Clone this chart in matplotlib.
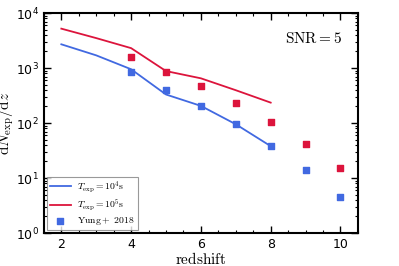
import matplotlib
matplotlib.use("Agg")
import matplotlib.pyplot as plt
from matplotlib.ticker import MultipleLocator, LogLocator, NullFormatter

plt.rcParams['mathtext.fontset'] = 'cm'

# line models
z_line = [2, 3, 4, 5, 6, 7, 8]
n_t4 = [2700, 1700, 950, 330, 205, 95, 38]
n_t5 = [5200, 3500, 2300, 880, 650, 395, 235]

# Yung+2018 points
z_pts = [4, 5, 6, 7, 8, 9, 10]
yung_blue = [850, 400, 205, 95, 38, 14, 4.6]
yung_red = [1600, 830, 465, 235, 103, 42, 15]

blue = '#4169E1'
red = '#DC143C'

fig = plt.figure(figsize=(3.99, 2.66), dpi=100)
ax = fig.add_axes([0.110, 0.124, 0.787, 0.827])

ax.plot(z_line, n_t4, color=blue, lw=1.3, label=r'$T_{\rm exp}=10^4{\rm s}$')
ax.plot(z_line, n_t5, color=red, lw=1.3, label=r'$T_{\rm exp}=10^5{\rm s}$')
ax.scatter(z_pts, yung_blue, marker='s', s=13, color=blue, label=r'${\rm Yung+\ 2018}$', zorder=3)
ax.scatter(z_pts, yung_red, marker='s', s=13, color=red, zorder=3)

ax.set_yscale('log')
ax.set_xlim(1.5, 10.5)
ax.set_ylim(1, 1e4)
ax.set_xticks([2, 4, 6, 8, 10])
ax.xaxis.set_minor_locator(MultipleLocator(0.5))
ax.yaxis.set_minor_locator(LogLocator(base=10, subs=range(2, 10), numticks=20))
ax.yaxis.set_minor_formatter(NullFormatter())
ax.tick_params(which='both', direction='in', top=True, right=True, labelsize=9)
ax.tick_params(which='major', length=5, width=1)
ax.tick_params(which='minor', length=2.5, width=0.8)
for s in ax.spines.values():
    s.set_linewidth(1.5)

ax.set_xlabel(r'${\rm redshift}$', fontsize=11, labelpad=0)
ax.set_ylabel(r'${\rm d}N_{\rm exp}/{\rm d}z$', fontsize=11, labelpad=0)
ax.text(0.95, 0.92, r'${\rm SNR}=5$', transform=ax.transAxes, ha='right', va='top', fontsize=11)

leg = ax.legend(loc='lower left', fontsize=7, frameon=True, fancybox=False,
                edgecolor='gray', handlelength=2.2, borderpad=0.3, labelspacing=0.25,
                borderaxespad=0.3, handletextpad=0.6)
leg.get_frame().set_linewidth(0.8)

fig.savefig('out.png', dpi=100)
